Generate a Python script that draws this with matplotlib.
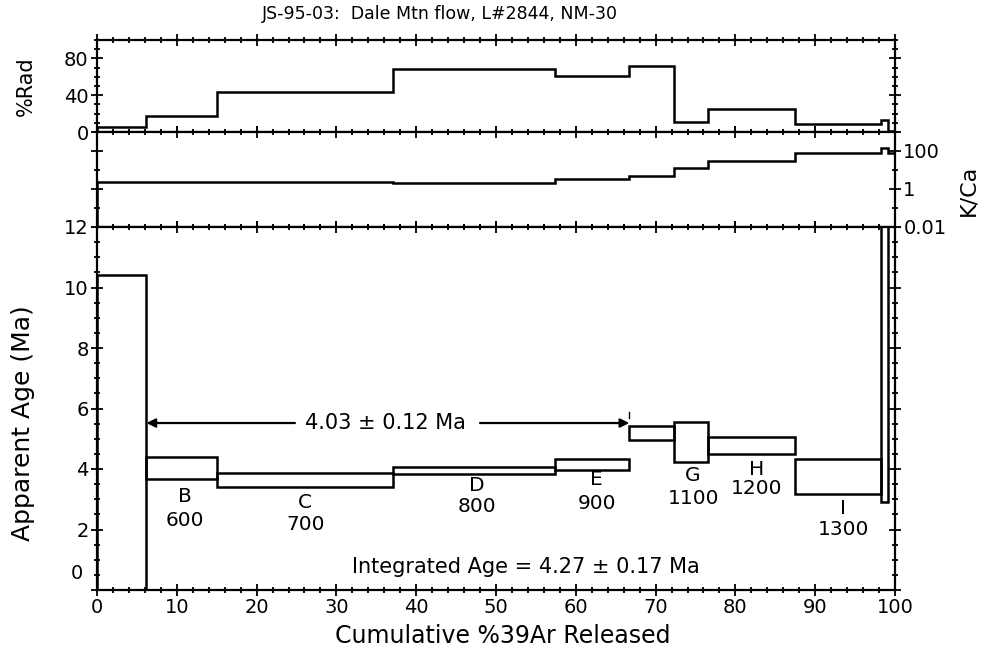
import matplotlib
matplotlib.use("Agg")
import matplotlib.pyplot as plt
import numpy as np
from matplotlib.ticker import MultipleLocator, NullFormatter

plt.rcParams["font.family"] = ["DejaVu Sans"]

# heating steps (cumulative %39Ar edges)
STEP_EDGES = [0, 6.2, 15.0, 37.1, 57.4, 66.7, 72.3, 76.6, 87.5, 98.3, 99.1, 100]
PCT_RAD = [5, 17, 43, 68, 61, 72, 11, 25, 9, 13, 1]
K_CA = [2.2, 2.2, 2.2, 2.0, 3.2, 4.8, 12, 30, 75, 140, 75]
# apparent age and 2-sigma half width (Ma), steps A..J
AGE = [5.0, 4.03, 3.645, 3.955, 4.155, 5.19, 4.89, 4.775, 3.755, 8.5]
AGE_ERR = [5.4, 0.37, 0.235, 0.125, 0.185, 0.23, 0.65, 0.275, 0.585, 5.6]

# step labels: letter, temperature, x, y(letter), y(temp)
STEP_LABELS = [
    ("B", "600", 11.0, 3.08, 2.31),
    ("C", "700", 26.1, 2.88, 2.15),
    ("D", "800", 47.6, 3.44, 2.75),
    ("E", "900", 62.6, 3.64, 2.87),
    ("G", "1100", 74.7, 3.77, 3.04),
    ("H", "1200", 82.7, 3.99, 3.36),
    ("I", "1300", 93.5, 2.70, 2.00),
]
# plateau: start, end, level, text centre, gap edges
PLATEAU = (6.2, 66.7, 5.52)
PLATEAU_TEXT_X = 36.1
PLATEAU_GAP = (24.8, 48.0)
PLATEAU_TEXT = "4.03 \u00b1 0.12 Ma"
INTEGRATED_TEXT = "Integrated Age = 4.27 \u00b1 0.17 Ma"

LW = 1.8
FS = 14

fig = plt.figure(figsize=(9.89, 6.55), dpi=100)
left, width = 97 / 989, 798 / 989
ax_rad = fig.add_axes([left, 1 - 132 / 655, width, 92 / 655])
ax_kca = fig.add_axes([left, 1 - 227 / 655, width, 95 / 655])
ax_age = fig.add_axes([left, 1 - 590 / 655, width, 363 / 655])


def style(ax):
    for s in ax.spines.values():
        s.set_linewidth(1.6)
    ax.set_xlim(0, 100)
    ax.xaxis.set_major_locator(MultipleLocator(10))
    ax.xaxis.set_minor_locator(MultipleLocator(2))
    ax.tick_params(which="both", direction="inout", top=True, right=True,
                   width=1.3, labelsize=FS, pad=2)
    ax.tick_params(which="major", length=8)
    ax.tick_params(which="minor", length=5)


# ---------- %Rad ----------
style(ax_rad)
ax_rad.stairs(PCT_RAD, STEP_EDGES, color="black", lw=LW)
ax_rad.set_ylim(0, 100)
ax_rad.set_yticks([0, 40, 80])
ax_rad.yaxis.set_minor_locator(MultipleLocator(10))
ax_rad.xaxis.set_major_formatter(NullFormatter())
ax_rad.set_ylabel("%Rad", fontsize=15)
ax_rad.yaxis.set_label_coords(-0.076, 0.5)

# ---------- K/Ca ----------
style(ax_kca)
ax_kca.stairs(K_CA, STEP_EDGES, color="black", lw=LW)
ax_kca.set_yscale("log")
ax_kca.set_ylim(0.01, 1000)
ax_kca.set_yticks([0.01, 1, 100])
ax_kca.set_yticks([0.1, 10, 1000], minor=True)
ax_kca.yaxis.set_minor_formatter(NullFormatter())
ax_kca.set_yticklabels(["0.01", "1", "100"])
ax_kca.tick_params(axis="y", labelleft=False, labelright=True)
ax_kca.xaxis.set_major_formatter(NullFormatter())
fig.text(968 / 989, 1 - 190 / 655, "K/Ca", rotation=90, ha="center",
         va="center", fontsize=16)

# ---------- age spectrum ----------
style(ax_age)
n = len(AGE)
edges = np.array(STEP_EDGES)
age = np.array(AGE)
err = np.array(AGE_ERR)
ax_age.bar(edges[:n], 2 * err, width=np.diff(edges)[:n], bottom=age - err,
           align="edge", fill=False, edgecolor="black", linewidth=LW)
ax_age.set_ylim(0, 12)
ax_age.set_yticks([0, 2, 4, 6, 8, 10, 12])
ax_age.set_yticklabels(["", "2", "4", "6", "8", "10", "12"])
ax_age.yaxis.set_minor_locator(MultipleLocator(0.5))
ax_age.text(-0.018, 0.55, "0", transform=ax_age.get_yaxis_transform(),
            ha="right", va="center", fontsize=FS)
ax_age.set_xlabel("Cumulative %39Ar Released", fontsize=17)
ax_age.xaxis.set_label_coords(0.509, -0.127)
ax_age.xaxis.label.set_va("center")
ax_age.set_ylabel("Apparent Age (Ma)", fontsize=18)
ax_age.yaxis.set_label_coords(-0.078, 0.46)

# plateau arrow
x0, x1, yp = PLATEAU
g0, g1 = PLATEAU_GAP
arrow = dict(arrowstyle="-|>", color="black", lw=1.6, mutation_scale=13,
             shrinkA=0, shrinkB=0)
ax_age.annotate("", xy=(x0, yp), xytext=(g0, yp), arrowprops=arrow)
ax_age.annotate("", xy=(x1, yp), xytext=(g1, yp), arrowprops=arrow)
ax_age.text(PLATEAU_TEXT_X, yp, PLATEAU_TEXT, ha="center", va="center",
            fontsize=15)
ax_age.plot([x1, x1], [yp + 0.15, yp + 0.35], color="black", lw=1)

for letter, temp, x, yl, yt in STEP_LABELS:
    ax_age.text(x, yl, letter, ha="center", va="center", fontsize=14.5)
    ax_age.text(x, yt, temp, ha="center", va="center", fontsize=14.5)

ax_age.text(53.8, 0.76, INTEGRATED_TEXT, ha="center", va="center",
            fontsize=15)

fig.text(440 / 989, 1 - 14 / 655, "JS-95-03:  Dale Mtn flow, L#2844, NM-30",
         ha="center", va="center", fontsize=12.5)

fig.savefig("out.png", dpi=100)
